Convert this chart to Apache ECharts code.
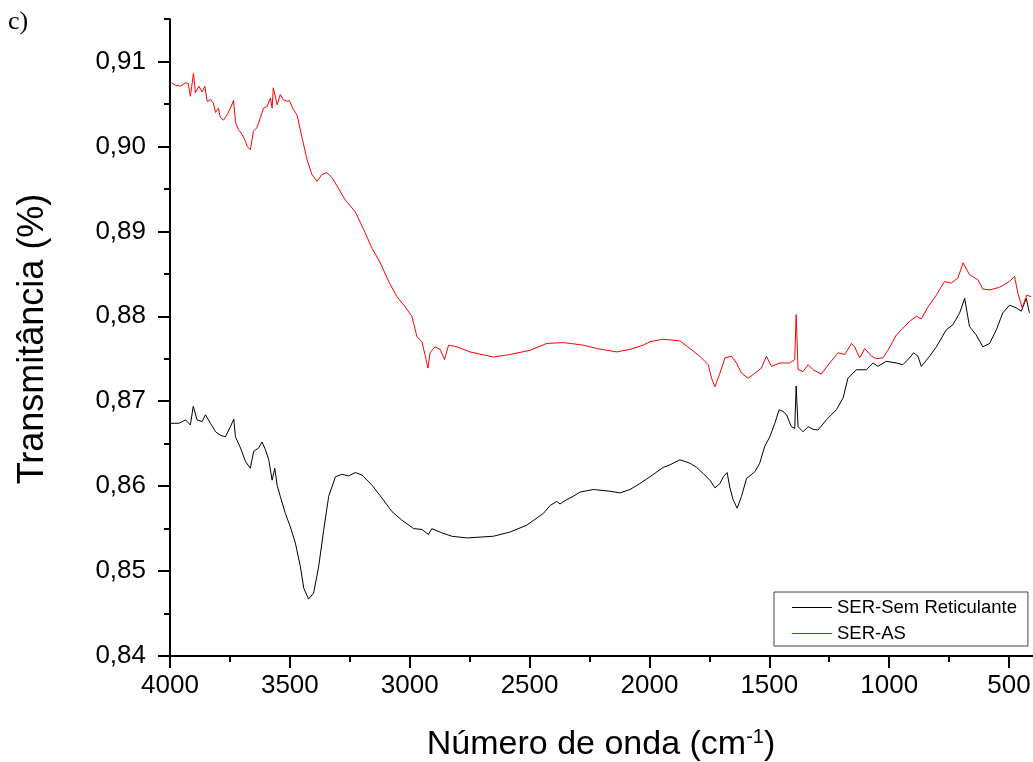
<!DOCTYPE html>
<html>
<head>
<meta charset="utf-8">
<script src="https://cdn.jsdelivr.net/npm/echarts@6/dist/echarts.min.js"></script>
<style>
  html, body { margin: 0; padding: 0; background: #fff; }
  #chart { width: 1033px; height: 762px; }
</style>
</head>
<body>
<div id="chart"></div>
<script>
// SER-Sem Reticulante (preto)
const blackWave = [3998, 3963, 3935, 3915, 3903, 3887, 3866, 3852, 3831, 3810, 3790, 3769, 3748, 3734, 3727,
  3706, 3685, 3665, 3651, 3630, 3616, 3602, 3588, 3574, 3563, 3553, 3540, 3519, 3498, 3477, 3456, 3442,
  3422, 3401, 3380, 3359, 3338, 3310, 3283, 3255, 3227, 3199, 3157, 3116, 3074, 3033, 2984, 2949, 2922,
  2908, 2866, 2824, 2762, 2651, 2581, 2512, 2442, 2415, 2387, 2373, 2352, 2318, 2290, 2234, 2165, 2123,
  2081, 2040, 1998, 1943, 1915, 1873, 1831, 1803, 1776, 1748, 1727, 1706, 1692, 1676, 1665, 1651, 1634,
  1616, 1595, 1560, 1540, 1519, 1498, 1477, 1459, 1443, 1428, 1408, 1394, 1388, 1380, 1359, 1338, 1317,
  1297, 1262, 1220, 1192, 1172, 1137, 1095, 1067, 1047, 1012, 970, 943, 915, 898, 880, 866, 831, 803,
  762, 734, 706, 685, 665, 637, 609, 581, 553, 526, 498, 470, 449, 428, 415];
const blackTrans = [0.8674, 0.8674, 0.8678, 0.8672, 0.8694, 0.8678, 0.8676, 0.8684, 0.8674, 0.8664, 0.8660,
  0.8658, 0.8670, 0.8679, 0.8658, 0.8645, 0.8629, 0.8621, 0.8641, 0.8645, 0.8652, 0.8643, 0.8631, 0.8607,
  0.8621, 0.8601, 0.8588, 0.8568, 0.8552, 0.8533, 0.8505, 0.8480, 0.8467, 0.8474, 0.8505, 0.8548, 0.8588,
  0.8611, 0.8614, 0.8612, 0.8616, 0.8613, 0.8601, 0.8586, 0.8570, 0.8560, 0.8550, 0.8549, 0.8543, 0.8550,
  0.8545, 0.8541, 0.8539, 0.8541, 0.8546, 0.8554, 0.8568, 0.8577, 0.8582, 0.8579, 0.8583, 0.8588, 0.8593,
  0.8596, 0.8594, 0.8592, 0.8596, 0.8603, 0.8611, 0.8622, 0.8625, 0.8631, 0.8627, 0.8622, 0.8615, 0.8607,
  0.8598, 0.8603, 0.8611, 0.8616, 0.8599, 0.8584, 0.8574, 0.8588, 0.8609, 0.8617, 0.8627, 0.8647, 0.8658,
  0.8674, 0.8690, 0.8688, 0.8684, 0.8670, 0.8668, 0.8718, 0.8670, 0.8664, 0.8670, 0.8667, 0.8666, 0.8678,
  0.8690, 0.8704, 0.8727, 0.8737, 0.8737, 0.8745, 0.8741, 0.8747, 0.8745, 0.8743, 0.8751, 0.8757, 0.8753,
  0.8741, 0.8753, 0.8764, 0.8784, 0.8790, 0.8804, 0.8821, 0.8788, 0.8778, 0.8764, 0.8768, 0.8784, 0.8804,
  0.8813, 0.8810, 0.8806, 0.8821, 0.8804];

// SER-AS (vermelho)
const redWave = [3994, 3977, 3956, 3935, 3924, 3915, 3902, 3894, 3880, 3866, 3855, 3845, 3831, 3819, 3810,
  3798, 3790, 3777, 3762, 3748, 3735, 3727, 3715, 3699, 3685, 3678, 3665, 3652, 3637, 3623, 3610, 3595,
  3581, 3574, 3569, 3553, 3540, 3527, 3512, 3502, 3485, 3470, 3449, 3428, 3408, 3387, 3366, 3345, 3324,
  3298, 3269, 3227, 3192, 3157, 3123, 3088, 3053, 3019, 2991, 2970, 2949, 2935, 2924, 2915, 2894, 2873,
  2855, 2838, 2803, 2748, 2651, 2581, 2498, 2428, 2359, 2276, 2220, 2137, 2081, 2026, 1998, 1943, 1873,
  1831, 1790, 1755, 1741, 1727, 1706, 1685, 1658, 1637, 1616, 1588, 1560, 1533, 1512, 1491, 1456, 1415,
  1394, 1388, 1380, 1359, 1338, 1317, 1283, 1248, 1213, 1185, 1157, 1144, 1123, 1102, 1074, 1053, 1026,
  1005, 970, 942, 915, 887, 866, 838, 803, 769, 741, 713, 692, 665, 630, 609, 581, 540, 498, 477, 463,
  445, 426, 408];
const redTrans = [0.9075, 0.9072, 0.9071, 0.9075, 0.9074, 0.9059, 0.9086, 0.9063, 0.9071, 0.9064, 0.9071,
  0.9053, 0.9055, 0.9051, 0.9040, 0.9045, 0.9034, 0.9031, 0.9037, 0.9045, 0.9054, 0.9029, 0.9020, 0.9014,
  0.9006, 0.9000, 0.8996, 0.9018, 0.9022, 0.9034, 0.9045, 0.9047, 0.9057, 0.9045, 0.9069, 0.9049, 0.9061,
  0.9055, 0.9053, 0.9054, 0.9043, 0.9037, 0.9010, 0.8984, 0.8967, 0.8959, 0.8967, 0.8969, 0.8963, 0.8951,
  0.8937, 0.8923, 0.8902, 0.8880, 0.8863, 0.8841, 0.8823, 0.8811, 0.8800, 0.8776, 0.8770, 0.8753, 0.8739,
  0.8757, 0.8764, 0.8761, 0.8749, 0.8766, 0.8764, 0.8758, 0.8752, 0.8755, 0.8760, 0.8768, 0.8769, 0.8766,
  0.8762, 0.8758, 0.8761, 0.8766, 0.8770, 0.8773, 0.8771, 0.8762, 0.8753, 0.8743, 0.8727, 0.8717, 0.8733,
  0.8751, 0.8753, 0.8745, 0.8733, 0.8727, 0.8733, 0.8739, 0.8753, 0.8741, 0.8745, 0.8745, 0.8749, 0.8802,
  0.8737, 0.8735, 0.8743, 0.8737, 0.8732, 0.8745, 0.8757, 0.8755, 0.8768, 0.8764, 0.8751, 0.8762, 0.8753,
  0.8750, 0.8751, 0.8760, 0.8778, 0.8786, 0.8794, 0.8800, 0.8797, 0.8811, 0.8825, 0.8841, 0.8839, 0.8845,
  0.8863, 0.8849, 0.8843, 0.8832, 0.8831, 0.8834, 0.8841, 0.8847, 0.8827, 0.8810, 0.8825, 0.8823];

const xMajor = [4000, 3500, 3000, 2500, 2000, 1500, 1000, 500];
const xMinor = [3750, 3250, 2750, 2250, 1750, 1250, 750];
const yMajor = [0.84, 0.85, 0.86, 0.87, 0.88, 0.89, 0.90, 0.91];
const yMinor = [0.845, 0.855, 0.865, 0.875, 0.885, 0.895, 0.905, 0.915];

const FONT = '"Liberation Sans", Arial, sans-serif';
const X_MIN = 400, X_MAX = 4000, Y_MIN = 0.84, Y_MAX = 0.915;

const toPairs = (xs, ys) => xs.map((x, i) => [x, ys[i]]);

const chart = echarts.init(document.getElementById('chart'));

const baseX = {
  type: 'value', inverse: true, min: X_MIN, max: X_MAX,
  splitLine: { show: false },
};
const baseY = {
  type: 'value', min: Y_MIN, max: Y_MAX,
  splitLine: { show: false },
};

const option = {
  animation: false,
  backgroundColor: '#fff',
  grid: { left: 170, right: 0, top: 19, bottom: 106, containLabel: false, outerBoundsMode: 'none' },
  xAxis: [
    {
      ...baseX,
      axisLine: { show: true, lineStyle: { color: '#000', width: 2 } },
      axisTick: { show: true, customValues: xMajor, length: 12, lineStyle: { color: '#000', width: 2 } },
      axisLabel: {
        customValues: xMajor, margin: 17, color: '#000',
        fontFamily: FONT, fontSize: 26,
        formatter: (v) => String(v),
      },
    },
    {
      ...baseX,
      position: 'bottom',
      axisLine: { show: false },
      axisTick: { show: true, customValues: xMinor, length: 6, lineStyle: { color: '#000', width: 2 } },
      axisLabel: { show: false },
    },
  ],
  yAxis: [
    {
      ...baseY,
      axisLine: { show: true, lineStyle: { color: '#000', width: 2 } },
      axisTick: { show: true, customValues: yMajor, length: 12, lineStyle: { color: '#000', width: 2 } },
      axisLabel: {
        customValues: yMajor, margin: 24, color: '#000',
        fontFamily: FONT, fontSize: 26,
        formatter: (v) => v.toFixed(2).replace('.', ','),
      },
    },
    {
      ...baseY,
      position: 'left',
      axisLine: { show: false },
      axisTick: { show: true, customValues: yMinor, length: 6, lineStyle: { color: '#000', width: 2 } },
      axisLabel: { show: false },
    },
  ],
  legend: {
    orient: 'vertical',
    left: 774,
    top: 592,
    padding: [6, 11, 3, 18],
    itemGap: 7,
    itemWidth: 40,
    itemHeight: 1,
    icon: 'rect',
    backgroundColor: '#fff',
    borderColor: '#444',
    borderWidth: 1,
    borderRadius: 0,
    textStyle: { fontFamily: FONT, fontSize: 18.5, color: '#000', lineHeight: 16 },
    data: ['SER-Sem Reticulante', 'SER-AS'],
  },
  graphic: [
    {
      type: 'text', left: 8, top: 9,
      style: { text: 'c)', fontFamily: '"Liberation Serif", serif', fontSize: 26, fill: '#000' },
    },
    {
      type: 'text', x: 33, y: 339, rotation: Math.PI / 2,
      style: {
        text: 'Transmitância (%)', fontFamily: FONT, fontSize: 36, fill: '#000',
        align: 'center', verticalAlign: 'middle',
      },
    },
    {
      type: 'text', x: 601, y: 745,
      style: {
        text: '{a|Número de onda (cm}{s|-1}{a|)}',
        align: 'center', verticalAlign: 'middle',
        rich: {
          a: { fontFamily: FONT, fontSize: 34, fill: '#000', color: '#000' },
          s: { fontFamily: FONT, fontSize: 20, color: '#000', fill: '#000', verticalAlign: 'top', padding: [0, 0, 16, 0] },
        },
      },
    },
  ],
  series: [
    {
      name: 'SER-Sem Reticulante',
      type: 'line',
      xAxisIndex: 0, yAxisIndex: 0,
      data: toPairs(blackWave, blackTrans),
      symbol: 'none',
      color: '#000',
      lineStyle: { color: '#000', width: 1 },
    },
    {
      name: 'SER-AS',
      type: 'line',
      xAxisIndex: 0, yAxisIndex: 0,
      data: toPairs(redWave, redTrans),
      symbol: 'none',
      color: '#ff0000',
      lineStyle: { color: '#ff0000', width: 1 },
    },
  ],
};

chart.setOption(option);
</script>
</body>
</html>
